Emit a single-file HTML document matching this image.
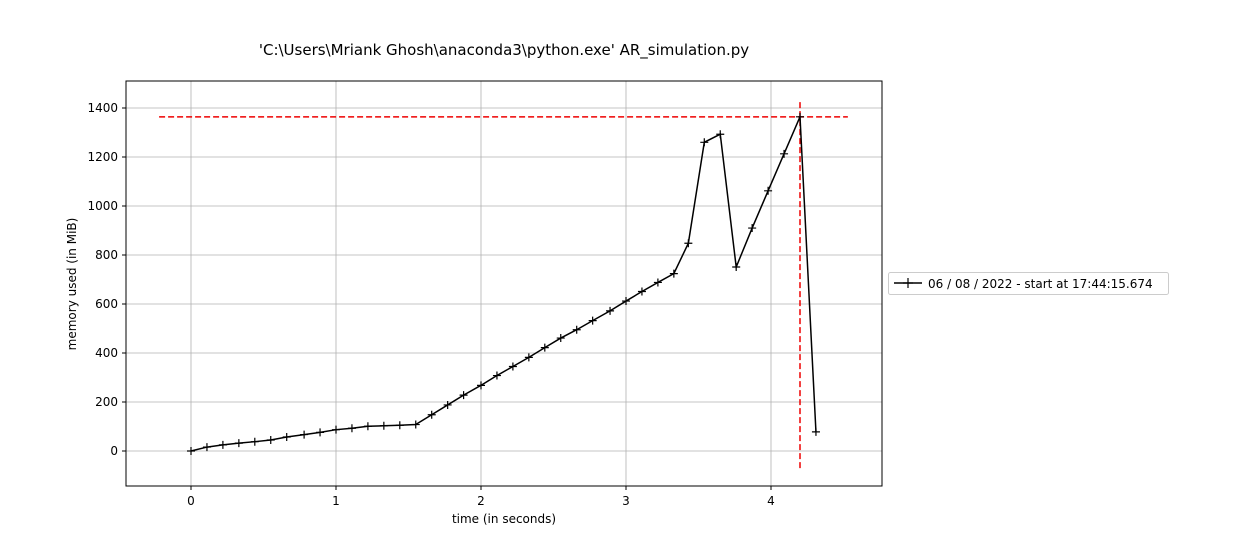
<!DOCTYPE html>
<html><head><meta charset="utf-8"><style>
body{margin:0;background:#fff;font-family:"Liberation Sans","DejaVu Sans",sans-serif}
svg text{font-family:"DejaVu Sans","Liberation Sans",sans-serif}
</style></head><body>
<svg id="chart" width="1260" height="540">
<text x="504" y="55" text-anchor="middle" font-size="15">'C:\Users\Mriank Ghosh\anaconda3\python.exe' AR_simulation.py</text>
<g id="grid"></g>
<g id="axes"></g>
<g id="marks"></g>
<rect x="126" y="81" width="756" height="405" fill="none" stroke="#000" stroke-width="1"/>
<text x="504" y="523" text-anchor="middle" font-size="12">time (in seconds)</text>
<text transform="translate(76,284) rotate(-90)" text-anchor="middle" font-size="12">memory used (in MiB)</text>
<g>
<rect x="888.5" y="272.5" width="280" height="22" rx="2" fill="#fff" stroke="#ccc"/>
<line x1="894" y1="283" x2="922" y2="283" stroke="#000" stroke-width="1.5"/>
<path d="M903,283h10M908,278v10" stroke="#000" stroke-width="1.2"/>
<text x="928" y="288" font-size="12">06 / 08 / 2022 - start at 17:44:15.674</text>
</g>
</svg>
<script>
const times=[0,0.11,0.22,0.33,0.44,0.55,0.66,0.78,0.89,1.0,1.11,1.22,1.33,1.44,1.55,1.66,1.77,1.88,2.0,2.11,2.22,2.33,2.44,2.55,2.66,2.77,2.89,3.0,3.11,3.22,3.33,3.43,3.54,3.65,3.76,3.87,3.98,4.09,4.2,4.31];
const mem=[0,16,25,32,38,45,57,67,76,87,93,101,103,105,108,148,188,228,268,308,345,382,422,461,495,532,572,612,651,688,724,848,1260,1293,751,910,1062,1213,1364,78];
const xTicks=[0,1,2,3,4];
const yTicks=[0,200,400,600,800,1000,1200,1400];
const peakMem=1364, peakTime=4.2;
const X=v=>191+v*145, Y=v=>451-v*0.245;
const NS="http://www.w3.org/2000/svg";
function mk(parent,tag,attrs){const e=document.createElementNS(NS,tag);for(const k in attrs)e.setAttribute(k,attrs[k]);document.getElementById(parent).appendChild(e);return e;}
xTicks.forEach(t=>{
 const g=mk('grid','line',{x1:X(t),x2:X(t),y1:81,y2:486,stroke:'#b0b0b0','stroke-width':0.8});
 
 
 mk('axes','line',{x1:X(t),x2:X(t),y1:486,y2:490,stroke:'#000'});
 const l=mk('axes','text',{x:X(t),y:505,'text-anchor':'middle','font-size':12});l.textContent=t;
 
 
});
yTicks.forEach(t=>{
 const g=mk('grid','line',{x1:126,x2:882,y1:Y(t),y2:Y(t),stroke:'#b0b0b0','stroke-width':0.8});
 
 
 mk('axes','line',{x1:122,x2:126,y1:Y(t),y2:Y(t),stroke:'#000'});
 const l=mk('axes','text',{x:118,y:Y(t)+4,'text-anchor':'end','font-size':12});l.textContent=t;
 
 
});
const h=mk('marks','line',{x1:X(-0.22),x2:X(4.53),y1:Y(peakMem),y2:Y(peakMem),stroke:'#e00','stroke-width':1.5,'stroke-dasharray':'6,3'});


const v=mk('marks','line',{x1:X(peakTime),x2:X(peakTime),y1:Y(-70),y2:Y(1434),stroke:'#e00','stroke-width':1.5,'stroke-dasharray':'6,3'});


const p=mk('marks','polyline',{points:times.map((t,i)=>X(t)+','+Y(mem[i])).join(' '),fill:'none',stroke:'#000','stroke-width':1.5});


times.forEach((t,i)=>{
 const m=mk('marks','path',{d:`M${X(t)-4},${Y(mem[i])}h8M${X(t)},${Y(mem[i])-4}v8`,stroke:'#000','stroke-width':1.2});
 
 
});
</script>
</body></html>
